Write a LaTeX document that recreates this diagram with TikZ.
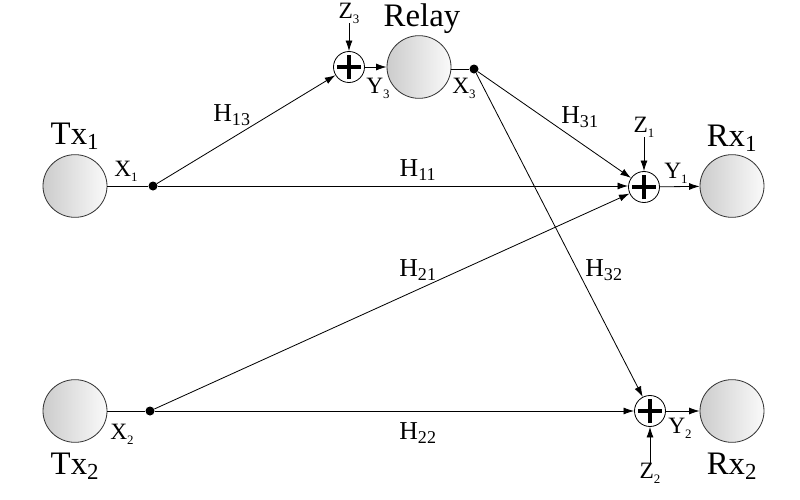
\documentclass[tikz,border=0pt]{standalone}
\usepackage{fontspec}
\setmainfont{Liberation Serif}
\usetikzlibrary{arrows.meta,shapes.geometric,positioning,calc}
\tikzset{
  termnode/.style={ellipse,draw=black!80,line width=0.7pt,left color=black!20,right color=black!2,
    minimum width=1.92cm,minimum height=1.88cm,inner sep=0pt},
  sumnode/.style={circle,draw,line width=0.7pt,fill=white,minimum size=0.93cm,inner sep=0pt,
    path picture={
      \draw[line width=2.8pt] ([xshift=-0.36cm]path picture bounding box.center) -- ([xshift=0.36cm]path picture bounding box.center);
      \draw[line width=2.8pt] ([yshift=-0.36cm]path picture bounding box.center) -- ([yshift=0.36cm]path picture bounding box.center);}},
  dotnode/.style={circle,fill,inner sep=0pt,minimum size=0.27cm},
  namelabel/.style={inner sep=0pt,font=\fontsize{28}{32}\selectfont},
  chanlabel/.style={inner sep=0pt,font=\fontsize{22}{26}\selectfont},
  siglabel/.style={inner sep=0pt,font=\fontsize{20}{24}\selectfont},
  arr/.style={-{Latex[length=9pt,width=6pt]},line width=0.7pt},
  wire/.style={line width=0.7pt}
}
\newcommand{\lo}[1]{\raisebox{-0.45ex}{\fontsize{11}{11}\selectfont #1}}

\begin{document}
\begin{tikzpicture}[x=0.03cm,y=-0.03cm]
  \useasboundingbox (0,0) rectangle (800,500);

  % terminals
  \node[termnode] (tx1) at (75,186) {};
  \node[termnode] (tx2) at (75,411) {};
  \node[termnode] (relay) at (419,67) {};
  \node[termnode] (rx1) at (732,186) {};
  \node[termnode] (rx2) at (732,411) {};

  \node[namelabel] (tx1name) at (75,136) {Tx\textsubscript{1}};
  \node[namelabel] (tx2name) at (75,466) {Tx\textsubscript{2}};
  \node[namelabel] (relayname) at (422,19) {Relay};
  \node[namelabel] (rx1name) at (732,138) {Rx\textsubscript{1}};
  \node[namelabel] (rx2name) at (732,466) {Rx\textsubscript{2}};

  % adders and branch points
  \node[sumnode] (sum3) at (349,67) {};
  \node[sumnode] (sum1) at (644,187) {};
  \node[sumnode] (sum2) at (650,411) {};
  \node[dotnode] (x1dot) at (153,186) {};
  \node[dotnode] (x2dot) at (150,411) {};
  \node[dotnode] (x3dot) at (474,69) {};

  % noise inputs
  \node[siglabel] (z3) at (349,13) {Z\lo{3}};
  \node[siglabel] (z1) at (644,127) {Z\lo{1}};
  \node[siglabel] (z2) at (650,473) {Z\lo{2}};

  % signal labels
  \node[siglabel] (x1) at (126,171) {X\lo{1}};
  \node[siglabel] (x2) at (122,434) {X\lo{2}};
  \node[siglabel] (x3) at (464,88) {X\lo{3}};
  \node[siglabel] (y3) at (378,88) {Y\lo{3}};
  \node[siglabel] (y1) at (676,173) {Y\lo{1}};
  \node[siglabel] (y2) at (680,428) {Y\lo{2}};

  % channel labels
  \node[chanlabel] (h13) at (232,115) {H\textsubscript{13}};
  \node[chanlabel] (h11) at (418,170) {H\textsubscript{11}};
  \node[chanlabel] (h31) at (580,117) {H\textsubscript{31}};
  \node[chanlabel] (h21) at (418,270) {H\textsubscript{21}};
  \node[chanlabel] (h32) at (604,270) {H\textsubscript{32}};
  \node[chanlabel] (h22) at (418,433) {H\textsubscript{22}};

  \draw[wire] (tx1) -- (x1dot);
  \draw[wire] (tx2) -- (x2dot);
  \draw[wire] (relay.east|-x3dot) -- (x3dot);

  \draw[arr] (x1dot) -- (sum3);
  \draw[arr] (x1dot) -- (sum1.west|-x1dot);
  \draw[arr] (x2dot) -- (sum1);
  \draw[arr] (x2dot) -- (sum2);
  \draw[arr] (x3dot) -- (sum1);
  \draw[arr] (x3dot) -- (sum2);

  \draw[arr] (sum3) -- (relay);
  \draw[arr] (sum1) -- (rx1);
  \draw[arr] (sum2) -- (rx2);

  \draw[arr] (z3) -- (sum3);
  \draw[arr] (z1) -- (sum1);
  \draw[arr] (z2) -- (sum2);
\end{tikzpicture}
\end{document}
